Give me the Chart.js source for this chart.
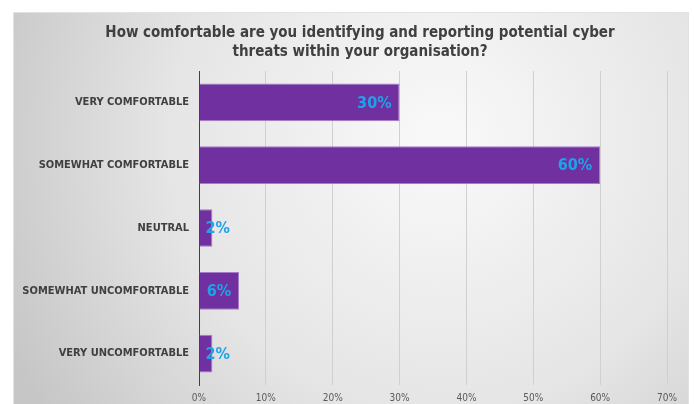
<!DOCTYPE html>
<html>
<head>
<meta charset="utf-8">
<script src="https://cdn.jsdelivr.net/npm/chart.js@4"></script>
<style>
  html, body { margin: 0; padding: 0; background: #ffffff; }
  #wrap { width: 694px; height: 404px; position: relative; }
</style>
</head>
<body>
<div id="wrap"><canvas id="chart" width="694" height="404"></canvas></div>
<script>
// Chart data
const titleLines = ['How comfortable are you identifying and reporting potential cyber', 'threats within your organisation?'];
const categories = ['VERY COMFORTABLE', 'SOMEWHAT COMFORTABLE', 'NEUTRAL', 'SOMEWHAT UNCOMFORTABLE', 'VERY UNCOMFORTABLE'];
const percentages = [30, 60, 2, 6, 2];
const axisMin = 0;
const axisMax = 70;
const axisStep = 10;

const FONT = "'DejaVu Sans Condensed', Lato, sans-serif";

// Grey panel with a soft radial highlight behind the chart
const panelBackground = {
  id: 'panelBackground',
  beforeDraw(chart) {
    const ctx = chart.ctx;
    ctx.save();
    const g = ctx.createRadialGradient(440, 140, 20, 440, 140, 480);
    g.addColorStop(0, '#f8f8f8');
    g.addColorStop(0.55, '#e5e5e5');
    g.addColorStop(1, '#c6c6c6');
    ctx.fillStyle = g;
    ctx.fillRect(13, 12, 676, 400);
    ctx.strokeStyle = '#e2e2e2';
    ctx.lineWidth = 1;
    ctx.strokeRect(13.5, 12.5, 675, 400);
    ctx.restore();
  }
};

// Two-line title, centred over the panel like the original
const panelTitle = {
  id: 'panelTitle',
  afterDraw(chart) {
    const ctx = chart.ctx;
    ctx.save();
    ctx.font = "bold 15px " + FONT;
    ctx.fillStyle = '#404040';
    ctx.textAlign = 'center';
    ctx.textBaseline = 'middle';
    titleLines.forEach((line, i) => ctx.fillText(line, 360, 33 + i * 19));
    ctx.restore();
  }
};

// Value labels at the inside end of each bar (Excel style)
const barLabels = {
  id: 'barLabels',
  afterDatasetsDraw(chart) {
    const ctx = chart.ctx;
    const meta = chart.getDatasetMeta(0);
    ctx.save();
    ctx.font = "bold 16px " + FONT;
    ctx.fillStyle = '#1fa3e8';
    ctx.textBaseline = 'middle';
    ctx.textAlign = 'left';
    meta.data.forEach((bar, i) => {
      const text = percentages[i] + '%';
      const w = ctx.measureText(text).width;
      const x = Math.max(bar.base + 6, bar.x - 8 - w);
      ctx.fillText(text, x, bar.y + 1);
    });
    ctx.restore();
  }
};

new Chart(document.getElementById('chart'), {
  type: 'bar',
  data: {
    labels: categories,
    datasets: [{
      data: percentages,
      backgroundColor: '#7030a0',
      borderColor: '#a57cc9',
      borderWidth: 1,
      categoryPercentage: 0.6,
      barPercentage: 1
    }]
  },
  options: {
    indexAxis: 'y',
    responsive: false,
    animation: false,
    layout: { padding: { left: 0, right: 27, top: 71, bottom: 0 } },
    plugins: {
      legend: { display: false },
      tooltip: { enabled: false },
      title: { display: false }
    },
    scales: {
      x: {
        min: axisMin,
        max: axisMax,
        ticks: {
          stepSize: axisStep,
          color: '#595959',
          font: { family: FONT, size: 10 },
          padding: 7,
          callback: v => v + '%'
        },
        grid: { color: '#d0d0d0', drawTicks: false },
        border: { display: false },
        afterFit(scale) { scale.height = 19; }
      },
      y: {
        ticks: {
          color: '#404040',
          font: { family: FONT, size: 11, weight: 'bold' },
          padding: 2
        },
        grid: { display: false },
        border: { display: true, color: '#404040', width: 1 },
        afterFit(scale) { scale.width = 199; }
      }
    }
  },
  plugins: [panelBackground, panelTitle, barLabels]
});
</script>
</body>
</html>
